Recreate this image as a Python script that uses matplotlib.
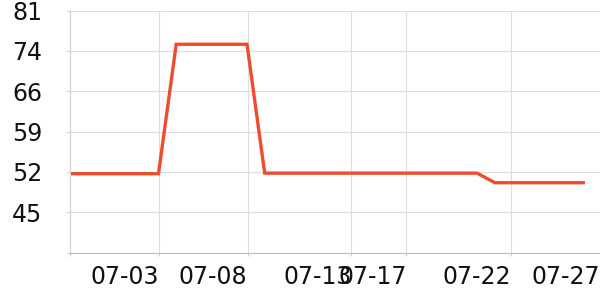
import matplotlib.pyplot as plt

# ── Datos ─────────────────────────────────────────────────
dias    = list(range(30))
valores = [51.8] * 6 + [74.8] * 5 + [51.9] * 13 + [50.2] * 6
dias    = dias[:len(valores)]

# Posiciones de ticks y etiquetas (eje x)
pos_ticks = [0, 5.0, 10.03, 15.9, 19.01, 24.9, 29.94]
etiquetas = ['', '07-03', '07-08', '07-13', '07-17', '07-22', '07-27']

# Eje y
y_min, y_max = 37.8, 80.8
y_ticks  = [37.8 + i * (y_max - y_min) / 6 for i in range(7)]
y_labels = ['', '45', '52', '59', '66', '74', '81']

# ── Gráfica ───────────────────────────────────────────────
fig = plt.figure(figsize=(6, 3), dpi=100)
ax = fig.add_axes([70 / 600, (300 - 252.5) / 300, 531 / 600, 242 / 300])

ax.plot(dias, valores, color='#EF4C2E', linewidth=2.4, solid_joinstyle='miter')

ax.set_xlim(0, 30)
ax.set_ylim(y_min, y_max)

ax.set_xticks(pos_ticks)
ax.set_xticklabels(etiquetas, ha='right')
ax.set_yticks(y_ticks)
ax.set_yticklabels(y_labels)

ax.grid(True, color='#dddddd', linewidth=0.8)
ax.set_axisbelow(True)
# la última línea vertical no se ve en el original
ax.xaxis.get_gridlines()[-1].set_visible(False)

for lado in ['top', 'right']:
    ax.spines[lado].set_visible(False)
ax.spines['left'].set_color('#d0d0d0')
ax.spines['bottom'].set_color('#bdbdbd')

ax.tick_params(axis='x', length=2, color='#cccccc', pad=7,
               labelsize=17, labelcolor='#111111')
ax.tick_params(axis='y', length=2, color='#cccccc', pad=18,
               labelsize=17, labelcolor='#111111')

fig.savefig('out.png', dpi=100)
